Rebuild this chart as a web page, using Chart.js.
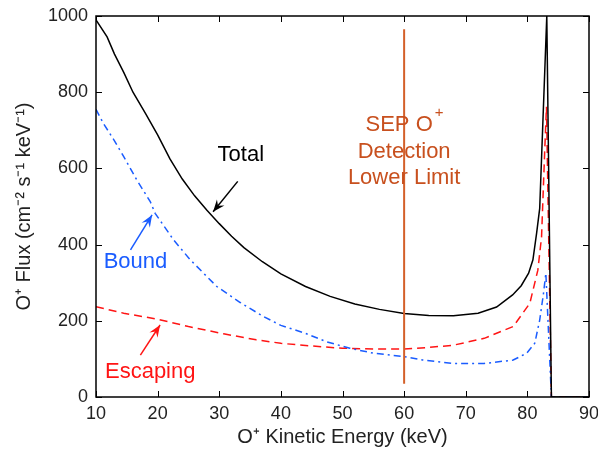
<!DOCTYPE html>
<html>
<head>
<meta charset="utf-8">
<script src="https://cdn.jsdelivr.net/npm/chart.js@4"></script>
<style>
  html, body { margin: 0; padding: 0; background: #fff; }
  #wrap { width: 598px; height: 453px; }
</style>
</head>
<body>
<div id="wrap"><canvas id="c" width="598" height="453"></canvas></div>
<script>
// energy (keV) and flux values
const totalE = [10, 11.8, 13, 14.5, 16, 18, 20, 22, 24, 26, 28, 30, 32, 34, 37, 40, 44, 48, 52, 56, 60, 64, 68, 72, 75, 77.6, 79, 80.2, 80.9, 81.5, 82.0, 83.15, 83.9, 90];
const totalFlux = [990, 945, 900, 852, 800, 745, 688, 625, 572, 528, 490, 455, 422, 392, 355, 323, 290, 264, 244, 230, 219, 214, 213, 220, 236, 268, 292, 325, 360, 430, 495, 1000, 0, 0];

const boundE = [10, 11.2, 12.9, 14.5, 16.6, 18.8, 19.6, 22.6, 25.3, 29.6, 33.4, 37.2, 40, 44, 47.4, 51.2, 55, 60, 63, 68, 73, 77.7, 79.9, 81.2, 82.0, 82.6, 83.0, 83.9, 90];
const boundFlux = [755, 718, 675, 631, 570, 513, 482, 412, 360, 290, 248, 211, 188, 167, 145, 128, 115, 106, 97, 88, 88, 97, 115, 141, 202, 270, 325, 0, 0];

const escE = [10, 14.5, 20, 25, 30.7, 36, 40, 44, 50, 55, 60, 64, 68, 73, 77.7, 80.4, 81.7, 82.3, 82.8, 83.1, 83.9, 90];
const escFlux = [237, 220, 204, 185, 166, 150, 141, 135, 128, 126, 126, 130, 136, 154, 185, 246, 333, 420, 640, 762, 0, 0];

const xTicks = [10, 20, 30, 40, 50, 60, 70, 80, 90];
const yTicks = [0, 200, 400, 600, 800, 1000];

const sepE = 60;
const sepRange = [35, 965];

const pts = (xs, ys) => xs.map((x, i) => ({ x, y: ys[i] }));

const FONT = '"Liberation Sans", Arial, sans-serif';
const SEP_LINE = '#d4602a';
const SEP_TEXT = '#c8501e';
const BLUE = '#1a5cff';
const RED = '#ff1414';

// box, inward ticks on all sides, text and arrows
const frame = {
  id: 'frame',
  afterDatasetsDraw(chart) {
    const ctx = chart.ctx;
    const a = chart.chartArea;
    const sx = chart.scales.x, sy = chart.scales.y;
    const X = v => sx.getPixelForValue(v), Y = v => sy.getPixelForValue(v);
    ctx.save();
    ctx.strokeStyle = '#000';
    ctx.lineWidth = 1.5;
    ctx.strokeRect(a.left, a.top, a.right - a.left, a.bottom - a.top);
    ctx.lineWidth = 1;
    const tl = 6;
    xTicks.forEach(v => {
      const px = Math.round(X(v)) + 0.5;
      ctx.beginPath();
      ctx.moveTo(px, a.bottom); ctx.lineTo(px, a.bottom - tl);
      ctx.moveTo(px, a.top); ctx.lineTo(px, a.top + tl);
      ctx.stroke();
    });
    yTicks.forEach(v => {
      const py = Math.round(Y(v)) + 0.5;
      ctx.beginPath();
      ctx.moveTo(a.left, py); ctx.lineTo(a.left + tl, py);
      ctx.moveTo(a.right, py); ctx.lineTo(a.right - tl, py);
      ctx.stroke();
    });

    // SEP label
    ctx.fillStyle = SEP_TEXT;
    ctx.textAlign = 'center';
    ctx.textBaseline = 'middle';
    ctx.font = '22px ' + FONT;
    ctx.fillText('SEP O', X(sepE) - 5, Y(714));
    ctx.font = '15px ' + FONT;
    ctx.fillText('+', X(sepE) + 35, Y(745));
    ctx.font = '22px ' + FONT;
    ctx.fillText('Detection', X(sepE), Y(643));
    ctx.fillText('Lower Limit', X(sepE), Y(574));

    const label = (txt, col, x, y) => {
      ctx.fillStyle = col;
      ctx.font = '22px ' + FONT;
      ctx.fillText(txt, X(x), Y(y));
    };
    const arrow = (col, x0, y0, x1, y1) => {
      const p0 = [X(x0), Y(y0)], p1 = [X(x1), Y(y1)];
      const ang = Math.atan2(p1[1] - p0[1], p1[0] - p0[0]);
      ctx.strokeStyle = col; ctx.fillStyle = col; ctx.lineWidth = 1.5;
      ctx.beginPath(); ctx.moveTo(p0[0], p0[1]); ctx.lineTo(p1[0], p1[1]); ctx.stroke();
      const L = 13, W = 0.38;
      ctx.beginPath();
      ctx.moveTo(p1[0], p1[1]);
      ctx.lineTo(p1[0] - L * Math.cos(ang - W), p1[1] - L * Math.sin(ang - W));
      ctx.lineTo(p1[0] - 0.6 * L * Math.cos(ang), p1[1] - 0.6 * L * Math.sin(ang));
      ctx.lineTo(p1[0] - L * Math.cos(ang + W), p1[1] - L * Math.sin(ang + W));
      ctx.closePath(); ctx.fill();
    };
    label('Total', '#000', 33.5, 635);
    arrow('#000', 33.0, 566, 29.0, 486);
    label('Bound', BLUE, 16.4, 354);
    arrow(BLUE, 15.6, 386, 19.1, 478);
    label('Escaping', RED, 18.8, 66);
    arrow(RED, 17.2, 110, 20.4, 189);
    ctx.restore();
  }
};

new Chart(document.getElementById('c'), {
  type: 'line',
  data: {
    datasets: [
      { data: [{ x: sepE, y: sepRange[0] }, { x: sepE, y: sepRange[1] }], borderColor: SEP_LINE, borderWidth: 2, pointRadius: 0 },
      { data: pts(totalE, totalFlux), borderColor: '#000', borderWidth: 1.5, pointRadius: 0, tension: 0 },
      { data: pts(boundE, boundFlux), borderColor: BLUE, borderWidth: 1.5, borderDash: [7, 4, 2, 4], pointRadius: 0, tension: 0 },
      { data: pts(escE, escFlux), borderColor: RED, borderWidth: 1.5, borderDash: [8, 5], pointRadius: 0, tension: 0 }
    ]
  },
  options: {
    responsive: false,
    animation: false,
    layout: { padding: { top: 16, right: 9, left: 8, bottom: 0 } },
    plugins: { legend: { display: false }, tooltip: { enabled: false } },
    scales: {
      x: {
        type: 'linear', min: 10, max: 90,
        afterBuildTicks: s => { s.ticks = xTicks.map(v => ({ value: v })); },
        afterFit: s => { s.height = 56; s.paddingRight = 0; s.paddingLeft = 0; },
        grid: { display: false, drawTicks: false },
        border: { display: false },
        ticks: { color: '#222', font: { family: FONT, size: 18 }, padding: 6, maxRotation: 0, callback: v => String(v) },
        title: { display: true, text: 'O⁺ Kinetic Energy (keV)', color: '#222', font: { family: FONT, size: 20 }, padding: { top: 3 } }
      },
      y: {
        type: 'linear', min: 0, max: 1000,
        afterBuildTicks: s => { s.ticks = yTicks.map(v => ({ value: v })); },
        afterFit: s => { s.width = 88; s.paddingTop = 0; s.paddingBottom = 0; },
        grid: { display: false, drawTicks: false },
        border: { display: false },
        ticks: { color: '#222', font: { family: FONT, size: 18 }, padding: 8, callback: v => String(v) },
        title: { display: true, text: 'O⁺ Flux (cm⁻² s⁻¹ keV⁻¹)', color: '#222', font: { family: FONT, size: 20 }, padding: { bottom: 0 } }
      }
    }
  },
  plugins: [frame]
});
</script>
</body>
</html>
